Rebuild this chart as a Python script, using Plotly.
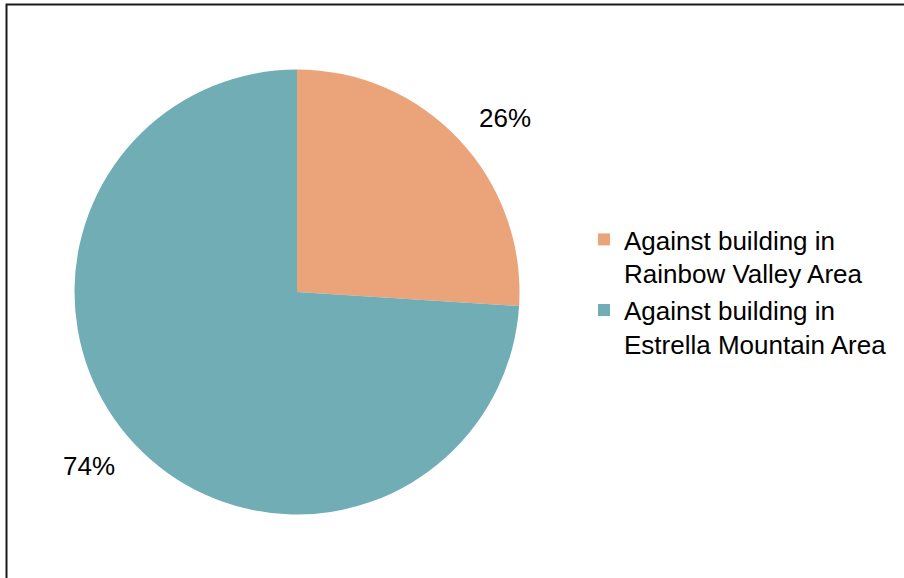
import math
import plotly.graph_objects as go

labels = ["Against building in<br>Rainbow Valley Area", "Against building in<br>Estrella Mountain Area"]
values = [26, 74]
colors = ["#EBA47A", "#70ADB5"]

W, H = 904, 578
cx, cy, R = 297, 292, 222.5

fig = go.Figure(go.Pie(
    labels=labels, values=values, sort=False, direction="clockwise", rotation=0,
    marker=dict(colors=colors, line=dict(width=0)),
    textinfo="none", hoverinfo="label+percent",
    domain=dict(x=[(cx - R) / W, (cx + R) / W], y=[(H - cy - R) / H, (H - cy + R) / H]),
))

# percentage labels placed outside the slices, computed from the values
total = sum(values)
start = 0.0
annotations = []
for v in values:
    frac = v / total
    mid = (start + frac / 2) * 2 * math.pi
    start += frac
    px = cx + math.sin(mid) * R * 1.28
    py = cy - math.cos(mid) * R * 1.14
    annotations.append(dict(
        x=px / W, y=1 - py / H, xref="paper", yref="paper",
        text=f"{round(frac * 100)}%", showarrow=False,
        font=dict(family="Liberation Sans, Arial", size=26, color="#000000"),
        xanchor="center", yanchor="middle",
    ))

fig.update_layout(
    width=W, height=H,
    margin=dict(l=0, r=0, t=0, b=0),
    paper_bgcolor="white", plot_bgcolor="white",
    showlegend=True,
    legend=dict(
        x=584 / W, y=1 - 216 / H, xanchor="left", yanchor="top",
        font=dict(family="Liberation Sans, Arial", size=26, color="#000000"),
        valign="top", bgcolor="rgba(0,0,0,0)",
    ),
    annotations=annotations,
    shapes=[dict(
        type="rect", xref="paper", yref="paper",
        x0=6.5 / W, x1=1.05, y0=-0.05, y1=1 - 4.5 / H,
        line=dict(color="#1a1a1a", width=2), fillcolor="rgba(0,0,0,0)",
    )],
)

fig.write_html(
    "out.html",
    config={"displayModeBar": False},
    post_script="document.body.style.margin='0';document.body.style.overflow='hidden';",
)
